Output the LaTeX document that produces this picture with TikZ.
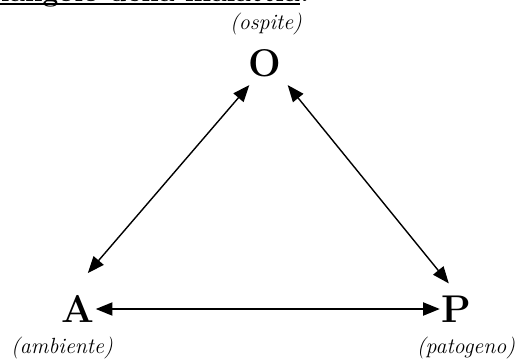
\documentclass[tikz,border=0pt]{standalone}
\usepackage{tikz}
\usetikzlibrary{arrows.meta}

\tikzset{
  vertex/.style={inner sep=0pt,font=\fontsize{22}{26}\selectfont\bfseries},
  role/.style={inner sep=0pt,font=\fontsize{12.5}{15}\selectfont\itshape},
  arr/.style={{Triangle[length=9.5pt,width=7.5pt]}-{Triangle[length=9.5pt,width=7.5pt]},line width=0.8pt}
}

\begin{document}
\begin{tikzpicture}[x=0.02cm,y=-0.02cm]
\useasboundingbox (0,0) rectangle (520,359);
% title, cut at the top edge
\node[anchor=base east,inner sep=0pt,font=\fontsize{16}{19}\selectfont\bfseries] (title) at (300,1.2) {Il triangolo della malattia};
\node[anchor=base west,inner sep=0pt,font=\fontsize{16}{19}\selectfont\bfseries] (colon) at (title.base east) {:};
\draw[line width=1.6pt] ([shift={(0,2.8)}]title.base west) -- ([shift={(0,2.8)}]title.base east);
% vertices
\node[vertex] (O) at (265,63) {O};
\node[vertex] (A) at (78,309) {A};
\node[vertex] (P) at (456,309) {P};
\node[role] (ospite) at (266,24) {(ospite)};
\node[role] (ambiente) at (62,348) {(ambiente)};
\node[role] (patogeno) at (466,348) {(patogeno)};
% connections
\draw[arr] ([shift={(1,8)}]O.south west) -- ([shift={(-7,-22)}]A.north east);
\draw[arr] ([shift={(6,8)}]O.south east) -- ([shift={(8,-12)}]P.north west);
\draw[arr] ([shift={(1,0)}]A.east) -- ([shift={(-1,0)}]P.west);
\end{tikzpicture}
\end{document}
